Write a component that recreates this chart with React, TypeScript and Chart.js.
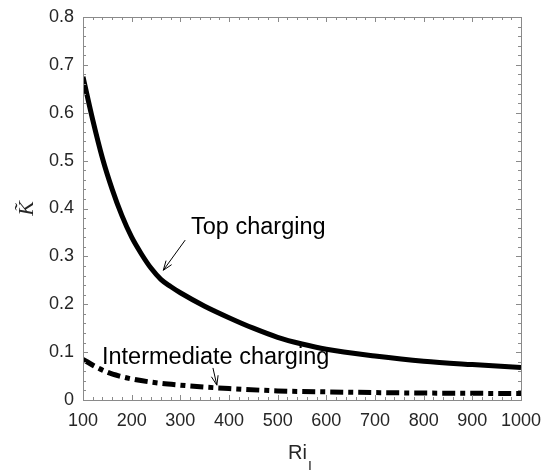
import React, { useEffect, useRef } from "react";
import { Chart, registerables } from "chart.js";

Chart.register(...registerables);

// ---- data ----
const riValuesTop = [100, 120, 140, 160, 180, 200, 220, 240, 260, 280, 300, 350, 400, 450, 500, 550, 600, 700, 800, 900, 1000];
const kTop = [0.675, 0.585, 0.505, 0.44, 0.385, 0.34, 0.305, 0.275, 0.252, 0.237, 0.224, 0.196, 0.172, 0.15, 0.131, 0.117, 0.106, 0.092, 0.081, 0.074, 0.068];

const riValuesMid = [100, 125, 150, 175, 200, 250, 300, 350, 400, 500, 600, 700, 800, 900, 1000];
const kMid = [0.085, 0.07, 0.058, 0.05, 0.044, 0.036, 0.031, 0.027, 0.024, 0.019, 0.017, 0.0155, 0.0145, 0.014, 0.0135];

const seriesLabels = ["Top charging", "Intermediate charging"];
const xTitle = "Ri";
const xTitleSub = "I";
const yTitle = "K\u0303";

// annotations: [text x, text y, arrow from x, from y, arrow to x, to y] in data units
const annTop = [322, 0.347, 310, 0.334, 265, 0.271];
const annMid = [139, 0.075, 367, 0.067, 375, 0.031];

const X_MIN = 100, X_MAX = 1000, X_STEP = 100, X_MINOR = 20;
const Y_MIN = 0, Y_MAX = 0.8, Y_STEP = 0.1, Y_MINOR = 0.02;

const SANS = "'Liberation Sans', Arial, sans-serif";

function drawArrow(ctx: CanvasRenderingContext2D, x1: number, y1: number, x2: number, y2: number) {
  ctx.beginPath();
  ctx.moveTo(x1, y1);
  ctx.lineTo(x2, y2);
  ctx.stroke();
  const ang = Math.atan2(y2 - y1, x2 - x1);
  const len = 10;
  const spread = 0.35;
  ctx.beginPath();
  ctx.moveTo(x2 - len * Math.cos(ang - spread), y2 - len * Math.sin(ang - spread));
  ctx.lineTo(x2, y2);
  ctx.lineTo(x2 - len * Math.cos(ang + spread), y2 - len * Math.sin(ang + spread));
  ctx.stroke();
}

const overlay = {
  id: "overlay",
  afterDraw(chart: any) {
    const { ctx, chartArea: a, scales } = chart;
    const xs = scales.x, ys = scales.y;
    ctx.save();
    // ticks (inward, all four sides)
    ctx.strokeStyle = "#8a8a8a";
    ctx.lineWidth = 1;
    const nx = Math.round((X_MAX - X_MIN) / X_MINOR);
    for (let i = 0; i <= nx; i++) {
      const v = X_MIN + i * X_MINOR;
      const px = Math.round(xs.getPixelForValue(v)) + 0.5;
      const major = i % Math.round(X_STEP / X_MINOR) === 0;
      const L = major ? 5 : 3;
      ctx.beginPath();
      ctx.moveTo(px, a.bottom);
      ctx.lineTo(px, a.bottom - L);
      ctx.moveTo(px, a.top);
      ctx.lineTo(px, a.top + L);
      ctx.stroke();
    }
    const ny = Math.round((Y_MAX - Y_MIN) / Y_MINOR);
    for (let i = 0; i <= ny; i++) {
      const v = Y_MIN + i * Y_MINOR;
      const py = Math.round(ys.getPixelForValue(v)) + 0.5;
      const major = i % Math.round(Y_STEP / Y_MINOR) === 0;
      const L = major ? 5 : 3;
      ctx.beginPath();
      ctx.moveTo(a.left, py);
      ctx.lineTo(a.left + L, py);
      ctx.moveTo(a.right, py);
      ctx.lineTo(a.right - L, py);
      ctx.stroke();
    }
    // box
    ctx.strokeRect(Math.round(a.left) + 0.5, Math.round(a.top) + 0.5, Math.round(a.right - a.left), Math.round(a.bottom - a.top));

    // annotations
    ctx.fillStyle = "#000";
    ctx.font = `23.5px ${SANS}`;
    ctx.textAlign = "left";
    ctx.textBaseline = "alphabetic";
    ctx.fillText(seriesLabels[0], xs.getPixelForValue(annTop[0]), ys.getPixelForValue(annTop[1]));
    ctx.fillText(seriesLabels[1], xs.getPixelForValue(annMid[0]), ys.getPixelForValue(annMid[1]));
    ctx.strokeStyle = "#000";
    ctx.lineWidth = 1;
    drawArrow(ctx, xs.getPixelForValue(annTop[2]), ys.getPixelForValue(annTop[3]), xs.getPixelForValue(annTop[4]), ys.getPixelForValue(annTop[5]));
    drawArrow(ctx, xs.getPixelForValue(annMid[2]), ys.getPixelForValue(annMid[3]), xs.getPixelForValue(annMid[4]), ys.getPixelForValue(annMid[5]));

    // axis titles
    ctx.fillStyle = "#262626";
    const cx = (a.left + a.right) / 2;
    ctx.font = `20px ${SANS}`;
    const w1 = ctx.measureText(xTitle).width;
    ctx.font = `14px ${SANS}`;
    const w2 = ctx.measureText(xTitleSub).width;
    const startX = cx - (w1 + w2 + 1) / 2 - 2;
    ctx.font = `20px ${SANS}`;
    ctx.fillText(xTitle, startX, 459);
    ctx.font = `14px ${SANS}`;
    ctx.fillText(xTitleSub, startX + w1 + 1, 471);

    ctx.save();
    ctx.translate(27, (a.top + a.bottom) / 2);
    ctx.rotate(-Math.PI / 2);
    ctx.font = `italic 22px 'Liberation Serif', 'Times New Roman', serif`;
    ctx.textAlign = "center";
    ctx.textBaseline = "middle";
    ctx.fillText(yTitle, 0, 0);
    ctx.restore();

    ctx.restore();
  },
};

export default function App() {
  const ref = useRef<HTMLCanvasElement | null>(null);
  useEffect(() => {
    if (!ref.current) return;
    const chart = new Chart(ref.current, {
      type: "line",
      data: {
        datasets: [
          {
            label: seriesLabels[0],
            data: riValuesTop.map((x, i) => ({ x, y: kTop[i] })),
            borderColor: "#000",
            borderWidth: 5,
            pointRadius: 0,
            fill: false,
            cubicInterpolationMode: "monotone",
          },
          {
            label: seriesLabels[1],
            data: riValuesMid.map((x, i) => ({ x, y: kMid[i] })),
            borderColor: "#000",
            borderWidth: 5,
            borderDash: [13, 5, 5, 5],
            pointRadius: 0,
            fill: false,
            cubicInterpolationMode: "monotone",
          },
        ],
      },
      options: {
        animation: false,
        responsive: false,
        maintainAspectRatio: false,
        devicePixelRatio: 1,
        layout: { padding: { top: 17, right: 22, left: 0, bottom: 0 } },
        plugins: { legend: { display: false }, tooltip: { enabled: false } },
        scales: {
          x: {
            type: "linear",
            min: X_MIN,
            max: X_MAX,
            grid: { display: false, drawTicks: false },
            border: { display: false },
            ticks: {
              stepSize: X_STEP,
              color: "#262626",
              font: { family: SANS, size: 18 },
              padding: 10,
              maxRotation: 0,
              autoSkip: false,
              callback: (v: any) => String(Math.round(Number(v))),
            },
            afterFit: (s: any) => { s.height = 70; s.paddingLeft = 0; s.paddingRight = 0; },
          },
          y: {
            type: "linear",
            min: Y_MIN,
            max: Y_MAX,
            grid: { display: false, drawTicks: false },
            border: { display: false },
            ticks: {
              stepSize: Y_STEP,
              color: "#262626",
              font: { family: SANS, size: 18 },
              padding: 9,
              callback: (v: any) => (Math.abs(v) < 1e-9 ? "0" : Number(v).toFixed(1)),
            },
            afterFit: (s: any) => { s.width = 83; s.paddingTop = 0; s.paddingBottom = 0; },
          },
        },
      },
      plugins: [overlay],
    } as any);
    return () => chart.destroy();
  }, []);
  return (
    <div style={{ position: "absolute", left: 0, top: 0, width: 543, height: 470, background: "#fff" }}>
      <canvas ref={ref} width={543} height={470} style={{ width: 543, height: 470, display: "block" }} />
    </div>
  );
}
